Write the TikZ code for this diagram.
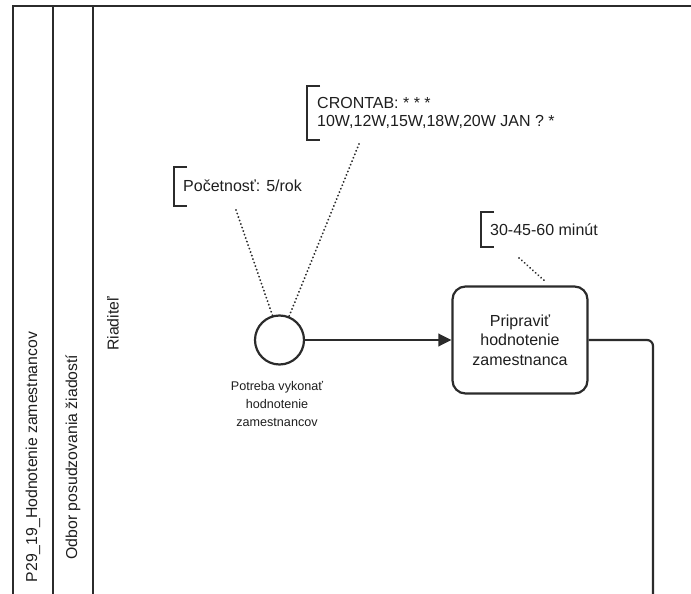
\documentclass[tikz,border=0pt]{standalone}
\usepackage{fontspec}
\setmainfont{Liberation Sans}
\usetikzlibrary{arrows.meta}
\definecolor{linecol}{HTML}{2B2B2B}
\definecolor{txtcol}{HTML}{1E1E1E}
\tikzset{
  poolline/.style={draw=linecol, line width=2pt},
  lanelabel/.style={rotate=90, text=txtcol, font=\fontsize{15.8}{18}\selectfont, inner sep=0pt},
  annot/.style={anchor=west, align=left, text=txtcol, font=\fontsize{16}{18}\selectfont, inner sep=0pt},
  bracketline/.style={draw=linecol, line width=2.6pt},
  taskbox/.style={draw=linecol, line width=2.2pt, rounded corners=13pt, minimum width=135pt, minimum height=107pt, align=center, text=txtcol, font=\fontsize{16}{19.5}\selectfont},
  startev/.style={circle, draw=linecol, line width=2.2pt, minimum size=49pt, inner sep=0pt},
  evlabel/.style={align=center, text=txtcol, font=\fontsize{12.6}{18}\selectfont, inner sep=0pt},
  flowline/.style={draw=linecol, line width=2.2pt},
  flowarrow/.style={flowline, -{Triangle[length=13pt,width=12.5pt]}},
  assoc/.style={draw=linecol, line width=2.1pt, line cap=round, dash pattern=on 0.01pt off 3.7pt}
}
\begin{document}
\begin{tikzpicture}[x=1pt,y=-1pt]
\useasboundingbox (0,0) rectangle (691,594);
% pool and lanes
\coordinate (pooltl) at (13,6);
\coordinate (pooltr) at (691,6);
\coordinate (lane1t) at (53,6);
\coordinate (lane2t) at (93,6);
\coordinate (poolbl) at (13,594);
\coordinate (lane1b) at (53,594);
\coordinate (lane2b) at (93,594);
\draw[poolline] (pooltr) -- (pooltl) -- (poolbl);
\draw[poolline] (lane1t) -- (lane1b);
\draw[poolline] (lane2t) -- (lane2b);
\node[lanelabel] (poolname) at (33,457) {P29\_19\_Hodnotenie zamestnancov};
\node[lanelabel] (lanename) at (73,457) {Odbor posudzovania žiadostí};
\node[lanelabel] (rolename) at (113,324) {Riaditeľ};
% annotations
\draw[bracketline] (320,86) -- (307,86) -- (307,140) -- (320,140);
\node[annot] (cron) at (317,113) {CRONTAB: * * *\\10W,12W,15W,18W,20W JAN ? *};
\draw[bracketline] (187,167) -- (174,167) -- (174,206) -- (187,206);
\node[annot] (freq) at (183,186) {Početnosť: 5/rok};
\draw[bracketline] (494,212) -- (481,212) -- (481,247) -- (494,247);
\node[annot] (dur) at (490,230) {30-45-60 minút};
% start event and task
\node[startev] (ev) at (279.5,340) {};
\node[evlabel] (evlab) at (277,404) {Potreba vykonať\\hodnotenie\\zamestnancov};
\node[taskbox] (task) at (520,340) {Pripraviť\\hodnotenie\\zamestnanca};
% associations
\coordinate (freqa) at (236,210);
\coordinate (crona) at (359,144);
\coordinate (dura) at (519,258);
\coordinate (taska) at (546,282);
\draw[assoc] (freqa) -- (ev.106);
\draw[assoc] (crona) -- (ev.68);
\draw[assoc] (dura) -- (taska);
% sequence flows
\draw[flowarrow] (ev.east) -- (task.west);
\coordinate (flowend) at (653,594);
\draw[flowline, rounded corners=6pt] (task.east) -- (653,340) -- (flowend);
\end{tikzpicture}
\end{document}
